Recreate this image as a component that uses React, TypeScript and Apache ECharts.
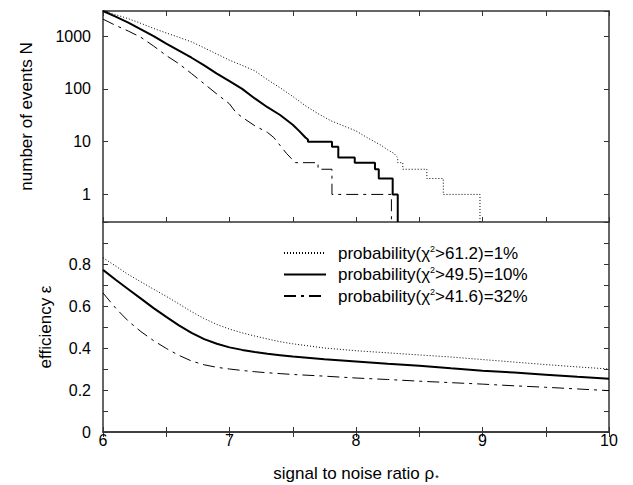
import React, { useEffect, useRef } from 'react';
import * as echarts from 'echarts';

const FONT = "'Liberation Sans', Arial, Helvetica, sans-serif";

// Series names (legend)
const SERIES_NAMES = [
  'probability(χ2>61.2)=1%',
  'probability(χ2>49.5)=10%',
  'probability(χ2>41.6)=32%',
];
const LEGEND_TEXT = [
  'probability(χ{sup|2}>61.2)=1%',
  'probability(χ{sup|2}>49.5)=10%',
  'probability(χ{sup|2}>41.6)=32%',
];

// ---- Top panel: number of events N (log) vs signal to noise ratio ----
const dottedX = [6.0, 6.1, 6.2, 6.3, 6.4, 6.5, 6.6, 6.7, 6.8, 6.9, 7.0, 7.1, 7.2, 7.3, 7.4, 7.5, 7.6, 7.7, 7.8, 7.9, 8.0, 8.1, 8.2, 8.25, 8.3, 8.33, 8.33, 8.37, 8.37, 8.56, 8.56, 8.69, 8.69, 8.98, 8.98];
const dottedN = [3000, 2550, 2150, 1750, 1400, 1150, 950, 780, 600, 460, 350, 280, 220, 150, 105, 72, 48, 34, 25, 20, 16, 11.5, 8.5, 7, 6, 5, 4, 4, 3, 3, 2, 2, 1, 1, 0.3];

const solidX = [6.0, 6.1, 6.2, 6.3, 6.4, 6.5, 6.6, 6.7, 6.8, 6.9, 7.0, 7.1, 7.2, 7.3, 7.4, 7.5, 7.55, 7.6, 7.62, 7.62, 7.81, 7.81, 7.86, 7.86, 7.99, 7.99, 8.15, 8.15, 8.18, 8.18, 8.29, 8.29, 8.33, 8.33];
const solidN = [3000, 2350, 1800, 1350, 1000, 720, 530, 390, 280, 195, 140, 100, 66, 45, 32, 21, 16, 12, 11, 10, 10, 8, 8, 5, 5, 4, 4, 3, 3, 2, 2, 1, 1, 0.3];

const dashDotX = [6.0, 6.1, 6.2, 6.3, 6.4, 6.5, 6.6, 6.7, 6.8, 6.9, 7.0, 7.05, 7.1, 7.2, 7.3, 7.35, 7.4, 7.45, 7.5, 7.52, 7.7, 7.7, 7.81, 7.81, 8.28, 8.28];
const dashDotN = [2100, 1600, 1250, 950, 650, 430, 300, 195, 125, 80, 52, 36, 29, 20, 15, 12, 8.5, 6, 4.5, 4, 4, 3, 3, 1, 1, 0.3];

// ---- Bottom panel: efficiency ----
const effX = [6.0, 6.1, 6.2, 6.3, 6.4, 6.5, 6.6, 6.7, 6.8, 6.9, 7.0, 7.1, 7.2, 7.3, 7.4, 7.5, 7.75, 8.0, 8.25, 8.5, 8.75, 9.0, 9.25, 9.5, 9.75, 10.0];
const effDotted = [0.83, 0.79, 0.75, 0.715, 0.68, 0.646, 0.61, 0.573, 0.54, 0.512, 0.49, 0.472, 0.457, 0.443, 0.43, 0.42, 0.40, 0.387, 0.377, 0.367, 0.357, 0.345, 0.333, 0.321, 0.31, 0.30];
const effSolid = [0.772, 0.725, 0.68, 0.635, 0.59, 0.548, 0.508, 0.472, 0.442, 0.42, 0.403, 0.391, 0.381, 0.373, 0.366, 0.359, 0.346, 0.336, 0.325, 0.315, 0.303, 0.292, 0.283, 0.273, 0.263, 0.254];
const effDashDot = [0.662, 0.59, 0.528, 0.478, 0.435, 0.398, 0.365, 0.338, 0.32, 0.308, 0.30, 0.293, 0.287, 0.282, 0.278, 0.274, 0.266, 0.257, 0.25, 0.242, 0.235, 0.228, 0.22, 0.213, 0.205, 0.197];

const X_MIN = 6;
const X_MAX = 10;
const N_MIN = 0.3;
const N_MAX = 3000;
const N_LABELS = [1, 10, 100, 1000];
const EFF_LABELS = [0, 0.2, 0.4, 0.6, 0.8];

const zip = (xs: number[], ys: number[]) => xs.map((x, i) => [x, ys[i]]);

const LINE_STYLES = [
  { color: '#000', width: 1, type: [1, 2] as any },
  { color: '#000', width: 2, type: 'solid' as any },
  { color: '#000', width: 1, type: [12, 5, 3, 5] as any },
];

export default function App() {
  const ref = useRef<HTMLDivElement>(null);

  useEffect(() => {
    if (!ref.current) return;
    const chart = echarts.init(ref.current, undefined, { renderer: 'svg' });

    const axisLine = { show: true, lineStyle: { color: '#333', width: 1.5 } };
    const axisTick = { show: true, inside: true, length: 5, lineStyle: { color: '#333', width: 1 } };
    const hidden = { show: false };

    const xBase = (gridIndex: number, position: string) => ({
      type: 'value',
      gridIndex,
      position,
      min: X_MIN,
      max: X_MAX,
      interval: 0.5,
      axisLine,
      axisTick,
      splitLine: hidden,
      axisLabel: hidden,
    });

    const logBase = (position: string) => ({
      type: 'log',
      logBase: 10,
      gridIndex: 0,
      position,
      min: N_MIN,
      max: N_MAX,
      axisLine,
      axisTick,
      splitLine: hidden,
      axisLabel: hidden,
    });

    const effBase = (position: string) => ({
      type: 'value',
      gridIndex: 1,
      position,
      min: 0,
      max: 1,
      interval: 0.1,
      axisLine,
      axisTick,
      splitLine: hidden,
      axisLabel: hidden,
    });

    const seriesTop = [zip(dottedX, dottedN), zip(solidX, solidN), zip(dashDotX, dashDotN)].map((d, i) => ({
      type: 'line',
      name: SERIES_NAMES[i],
      xAxisIndex: 0,
      yAxisIndex: 0,
      data: d,
      symbol: 'none',
      itemStyle: { color: '#000' },
      lineStyle: LINE_STYLES[i],
      z: i === 1 ? 3 : 2,
    }));

    const seriesBottom = [effDotted, effSolid, effDashDot].map((vals, i) => ({
      type: 'line',
      name: SERIES_NAMES[i],
      xAxisIndex: 2,
      yAxisIndex: 2,
      data: zip(effX, vals),
      symbol: 'none',
      itemStyle: { color: '#000' },
      lineStyle: LINE_STYLES[i],
      z: i === 1 ? 3 : 2,
    }));

    chart.setOption({
      animation: false,
      backgroundColor: '#fff',
      textStyle: { fontFamily: FONT, color: '#000' },
      grid: [
        { left: 103, top: 11, width: 506, height: 211 },
        { left: 103, top: 222, width: 506, height: 210 },
      ],
      legend: {
        data: SERIES_NAMES,
        orient: 'vertical',
        left: 283,
        top: 244,
        padding: 0,
        itemWidth: 42,
        itemHeight: 14,
        itemGap: 4,
        itemStyle: { opacity: 0 },
        formatter: (name: string) => LEGEND_TEXT[SERIES_NAMES.indexOf(name)],
        textStyle: {
          fontFamily: FONT,
          fontSize: 17,
          color: '#000',
          padding: [0, 0, 0, 7],
          rich: {
            sup: { fontSize: 9, fontFamily: FONT, color: '#000', verticalAlign: 'top', padding: [0, 0, 9, 0] },
          },
        },
        selectedMode: false,
      },
      xAxis: [
        xBase(0, 'bottom'),
        xBase(0, 'top'),
        {
          ...xBase(1, 'bottom'),
          axisLabel: {
            show: true,
            margin: 0,
            fontSize: 16,
            fontFamily: FONT,
            color: '#000',
            formatter: (v: number) => (Math.abs(v - Math.round(v)) < 1e-6 ? String(Math.round(v)) : ''),
          },
          name: 'signal to noise ratio ρ{sub|*}',
          nameLocation: 'middle',
          nameGap: 33,
          nameTextStyle: {
            fontSize: 17,
            fontFamily: FONT,
            color: '#000',
            rich: {
              sub: { fontSize: 9, fontFamily: FONT, color: '#000', verticalAlign: 'bottom', padding: [6, 0, 0, 1] },
            },
          },
        },
        xBase(1, 'top'),
      ],
      yAxis: [
        {
          ...logBase('left'),
          axisLabel: {
            show: true,
            margin: 12,
            fontSize: 16,
            fontFamily: FONT,
            color: '#000',
            formatter: (v: number) => {
              const e = Math.round(Math.log10(v));
              const p = Math.pow(10, e);
              return Math.abs(v - p) / p < 1e-6 && N_LABELS.indexOf(p) >= 0 ? String(p) : '';
            },
          },
          name: 'number of events N',
          nameLocation: 'middle',
          nameGap: 68,
          nameTextStyle: { fontSize: 17, fontFamily: FONT, color: '#000' },
        },
        logBase('right'),
        {
          ...effBase('left'),
          axisLabel: {
            show: true,
            margin: 12,
            fontSize: 16,
            fontFamily: FONT,
            color: '#000',
            formatter: (v: number) => {
              const r = Math.round(v * 10) / 10;
              const hit = EFF_LABELS.find((l) => Math.abs(l - r) < 1e-6);
              return hit === undefined ? '' : hit === 0 ? '0' : hit.toFixed(1);
            },
          },
          name: 'efficiency ε',
          nameLocation: 'middle',
          nameGap: 49,
          nameTextStyle: { fontSize: 17, fontFamily: FONT, color: '#000' },
        },
        effBase('right'),
      ],
      series: [...seriesTop, ...seriesBottom],
    } as any);

    return () => {
      chart.dispose();
    };
  }, []);

  return (
    <div
      ref={ref}
      style={{ position: 'absolute', left: 0, top: 0, width: 633, height: 485, background: '#fff' }}
    />
  );
}
